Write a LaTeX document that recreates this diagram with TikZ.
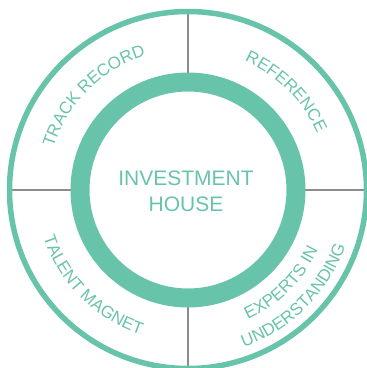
\documentclass[tikz,border=0pt]{standalone}
\usepackage{fontspec}
\setmainfont{Liberation Sans}
\usetikzlibrary{decorations.text}
\definecolor{tgreen}{RGB}{104,195,171}
\definecolor{tgray}{RGB}{140,140,140}
\tikzset{
  ringline/.style={draw=tgreen},
  divider/.style={draw=tgray, line width=1.5pt},
  arclabel/.style={decorate, decoration={text along path, text align=center, text color=tgreen}},
}
\newcommand{\lbl}{\fontsize{17}{20}\selectfont}
\begin{document}
\begin{tikzpicture}[x=1pt,y=1pt]
\useasboundingbox (-188,-178) rectangle (179,190);
% dividers
\coordinate (t1) at (90:117); \coordinate (t2) at (90:178);
\coordinate (b1) at (270:117); \coordinate (b2) at (270:178);
\coordinate (l1) at (180:117); \coordinate (l2) at (180:178);
\coordinate (r1) at (0:117); \coordinate (r2) at (0:178);
\draw[divider] (t1) -- (t2);
\draw[divider] (b1) -- (b2);
\draw[divider] (l1) -- (l2);
\draw[divider] (r1) -- (r2);
% circles
\draw[ringline, line width=5.5pt] (0,0) circle[radius=178.5];
\draw[ringline, line width=19pt] (0,0) circle[radius=108];
% centre
\node[text=tgreen, font=\fontsize{21}{26}\selectfont, align=center] (center) at (-2,-1) {INVESTMENT\\HOUSE};
% curved labels
\path[arclabel, decoration={text={|\lbl|TRACK RECORD}}] (180:141) arc[start angle=180, end angle=90, radius=141];
\path[arclabel, decoration={text={|\lbl|REFERENCE}}] (90:141) arc[start angle=90, end angle=0, radius=141];
\path[arclabel, decoration={text={|\lbl|TALENT MAGNET}}] (180:152) arc[start angle=180, end angle=270, radius=152];
\path[arclabel, decoration={text={|\lbl|EXPERTS IN}}] (270:143) arc[start angle=270, end angle=360, radius=143];
\path[arclabel, decoration={text={|\lbl|UNDERSTANDING}}] (270:167) arc[start angle=270, end angle=360, radius=167];
\end{tikzpicture}
\end{document}
